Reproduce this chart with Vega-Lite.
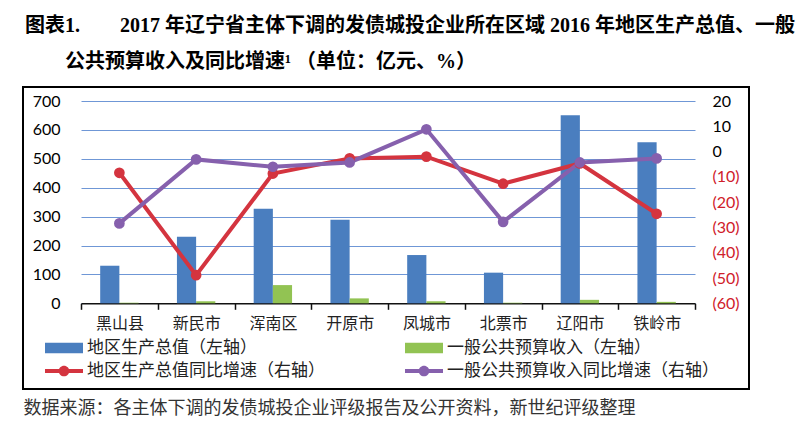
{
  "$schema": "https://vega.github.io/schema/vega-lite/v6.json",
  "autosize": {"type": "none"},
  "padding": {"left": 23, "top": 87, "right": 57, "bottom": 59},
  "width": 726,
  "height": 302,
  "background": "white",
  "title": {
    "text": ["图表1.　　2017 年辽宁省主体下调的发债城投企业所在区域 2016 年地区生产总值、一般", "\u200b　　公共预算收入及同比增速¹ （单位：亿元、%）"],
    "anchor": "start",
    "frame": "group",
    "font": "Liberation Serif, Noto Sans CJK SC",
    "fontSize": 20,
    "fontWeight": "bold",
    "color": "#000",
    "lineHeight": 36,
    "dx": 2,
    "offset": 15
  },
  "config": {
    "view": {"stroke": "#000", "strokeWidth": 2},
    "legend": {"labelFont": "Noto Sans CJK SC", "labelFontSize": 17, "labelColor": "#222"}
  },
  "data": {
    "values": [
      {"city": "黑山县", "gdp": 130, "rev": 2, "gdp_g": -8.4, "rev_g": -28.4},
      {"city": "新民市", "gdp": 230, "rev": 7, "gdp_g": -48.9, "rev_g": -3.1},
      {"city": "浑南区", "gdp": 327, "rev": 63, "gdp_g": -8.7, "rev_g": -6.0},
      {"city": "开原市", "gdp": 289, "rev": 17, "gdp_g": -2.7, "rev_g": -4.3},
      {"city": "凤城市", "gdp": 167, "rev": 7, "gdp_g": -2.0, "rev_g": 8.8},
      {"city": "北票市", "gdp": 106, "rev": 2, "gdp_g": -12.7, "rev_g": -27.8},
      {"city": "辽阳市", "gdp": 651, "rev": 12, "gdp_g": -4.7, "rev_g": -4.3},
      {"city": "铁岭市", "gdp": 557, "rev": 5, "gdp_g": -24.6, "rev_g": -2.7}
    ]
  },
  "resolve": {"scale": {"y": "independent"}},
  "layer": [
    {
      "transform": [{"fold": ["gdp", "rev"], "as": ["series", "v"]}],
      "mark": {"type": "bar"},
      "encoding": {
        "x": {
          "field": "city", "type": "nominal",
          "sort": ["黑山县", "新民市", "浑南区", "开原市", "凤城市", "北票市", "辽阳市", "铁岭市"],
          "scale": {"range": [58, 672], "paddingInner": 0, "paddingOuter": 0},
          "axis": {
            "orient": "bottom", "offset": -85.7, "domain": true, "domainColor": "#111", "domainWidth": 1.5,
            "ticks": true, "tickColor": "#111", "tickWidth": 1.5, "tickSize": 6, "tickBand": "extent",
            "labelFont": "Noto Sans CJK SC", "labelFontSize": 16, "labelColor": "#222", "labelPadding": 6, "labelAngle": 0,
            "grid": false,
            "title": "数据来源：各主体下调的发债城投企业评级报告及公开资料，新世纪评级整理",
            "titleX": 0, "titleY": 105, "titleAlign": "left", "titleBaseline": "middle", "titleAnchor": "start",
            "titleFont": "Noto Sans CJK SC", "titleFontSize": 18, "titleFontWeight": "normal", "titleColor": "#333"
          }
        },
        "xOffset": {"field": "series", "type": "nominal", "sort": ["gdp", "rev"], "scale": {"paddingInner": 0, "paddingOuter": 1.13}},
        "y": {
          "field": "v", "type": "quantitative",
          "scale": {"domain": [0, 700], "range": [216.3, 14], "nice": false, "zero": false},
          "axis": {
            "orient": "left", "values": [0, 100, 200, 300, 400, 500, 600, 700], "offset": -40,
            "domain": false, "ticks": false, "labelPadding": 3,
            "labelFont": "Lato", "labelFontSize": 16, "labelColor": "#000",
            "grid": true, "gridColor": "#6f97d6", "gridWidth": 1, "title": null
          }
        },
        "y2": {"datum": 0},
        "color": {
          "field": "series", "type": "nominal",
          "scale": {"domain": ["gdp", "rev", "gdp_g", "rev_g"], "range": ["#4a7ebf", "#92c353", "#d4343f", "#8660ad"]},
          "legend": {
            "orient": "none", "legendX": 22, "legendY": 252, "columns": 2, "direction": "horizontal",
            "title": null, "padding": 0, "symbolSize": 1444, "labelOffset": 4, "columnPadding": 80, "rowPadding": 5,
            "clipHeight": 18,
            "labelLimit": 400,
            "labelExpr": "datum.value == 'gdp' ? '地区生产总值（左轴）' : datum.value == 'rev' ? '一般公共预算收入（左轴）' : datum.value == 'gdp_g' ? '地区生产总值同比增速（右轴）' : '一般公共预算收入同比增速（右轴）'",
            "encode": {
              "symbols": {
                "update": {
                  "shape": {"signal": "(datum.value == 'gdp' || datum.value == 'rev') ? 'M-1,-0.27H1V0.27H-1Z' : 'M-1,-0.11H1V0.11H-1Z M-0.28,0A0.28,0.28 0 1,1 0.28,0A0.28,0.28 0 1,1 -0.28,0Z'"},
                  "fill": {"scale": "color", "field": "value"},
                  "strokeWidth": {"value": 0},
                  "size": {"value": 1444},
                  "opacity": {"value": 1}
                }
              }
            }
          }
        }
      }
    },
    {
      "transform": [{"fold": ["gdp_g", "rev_g"], "as": ["series", "v"]}],
      "layer": [
        {"mark": {"type": "line", "strokeWidth": 4}},
        {"mark": {"type": "point", "filled": true, "size": 115, "opacity": 1}}
      ],
      "encoding": {
        "x": {"field": "city", "type": "nominal", "sort": ["黑山县", "新民市", "浑南区", "开原市", "凤城市", "北票市", "辽阳市", "铁岭市"]},
        "y": {
          "field": "v", "type": "quantitative",
          "scale": {"domain": [-60, 20], "range": [216.3, 14], "nice": false, "zero": false},
          "axis": {
            "orient": "right", "values": [20, 10, 0, -10, -20, -30, -40, -50, -60], "offset": -37,
            "domain": false, "ticks": false, "grid": false, "labelPadding": 0,
            "labelFont": "Lato", "labelFontSize": 16,
            "labelColor": {"condition": {"test": "datum.value < 0", "value": "#d0202a"}, "value": "#000"},
            "labelExpr": "datum.value < 0 ? '(' + (-datum.value) + ')' : datum.label",
            "title": null
          }
        },
        "color": {"field": "series", "type": "nominal"}
      }
    }
  ]
}
